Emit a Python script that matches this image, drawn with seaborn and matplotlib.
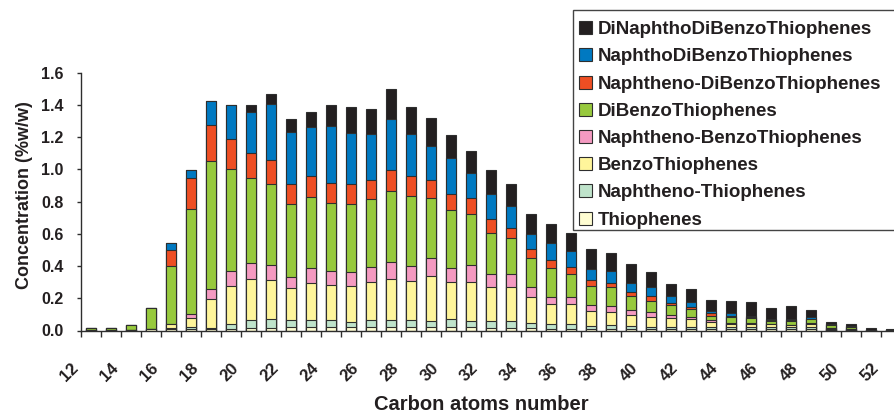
import numpy as np
import pandas as pd
import matplotlib
matplotlib.use("Agg")
import matplotlib.pyplot as plt
import matplotlib.transforms as mtransforms
from matplotlib.patches import Patch, Rectangle
import seaborn as sns

# ---------------------------------------------------------------
# DATA  (concentration %w/w per carbon atoms number, C12..C52)
# ---------------------------------------------------------------
CARBON = list(range(12, 53))

thiophenes = [0.004, 0.004, 0.005, 0.010, 0.008, 0.010, 0.010, 0.010, 0.015, 0.018,
              0.020, 0.020, 0.020, 0.020, 0.020, 0.020, 0.020, 0.020, 0.020, 0.020,
              0.017, 0.017, 0.015, 0.012, 0.012, 0.010, 0.010, 0.010, 0.008, 0.007,
              0.008, 0.007, 0.008, 0.007, 0.007, 0.008, 0.007, 0.004, 0.003, 0.002,
              0.002]
naphtheno_thiophenes = [0.0, 0.0, 0.0, 0.0, 0.005, 0.012, 0.005, 0.028, 0.050, 0.051,
                        0.045, 0.045, 0.045, 0.035, 0.045, 0.045, 0.045, 0.039, 0.049, 0.039,
                        0.044, 0.044, 0.033, 0.028, 0.028, 0.020, 0.026, 0.018, 0.016, 0.013,
                        0.016, 0.013, 0.016, 0.013, 0.013, 0.016, 0.013, 0.006, 0.004, 0.002,
                        0.001]
benzo_thiophenes = [0.0, 0.0, 0.0, 0.0, 0.025, 0.058, 0.180, 0.238, 0.252, 0.244,
                    0.196, 0.227, 0.217, 0.221, 0.234, 0.254, 0.242, 0.281, 0.230, 0.244,
                    0.207, 0.207, 0.161, 0.124, 0.122, 0.089, 0.077, 0.068, 0.058, 0.055,
                    0.046, 0.031, 0.016, 0.022, 0.018, 0.008, 0.020, 0.006, 0.004, 0.0,
                    0.0]
naphtheno_benzo = [0.0, 0.0, 0.0, 0.0, 0.005, 0.022, 0.062, 0.095, 0.099, 0.093,
                   0.072, 0.093, 0.089, 0.088, 0.093, 0.104, 0.094, 0.113, 0.086, 0.103,
                   0.080, 0.080, 0.059, 0.042, 0.044, 0.039, 0.039, 0.031, 0.031, 0.021,
                   0.012, 0.014, 0.008, 0.006, 0.004, 0.004, 0.005, 0.0, 0.0, 0.0,
                   0.0]
dibenzo_thiophenes = [0.011, 0.011, 0.032, 0.130, 0.357, 0.655, 0.793, 0.634, 0.533, 0.502,
                      0.451, 0.444, 0.421, 0.420, 0.423, 0.443, 0.434, 0.370, 0.362, 0.320,
                      0.258, 0.223, 0.185, 0.179, 0.142, 0.118, 0.116, 0.089, 0.072, 0.060,
                      0.049, 0.025, 0.034, 0.030, 0.020, 0.024, 0.025, 0.020, 0.012, 0.002,
                      0.001]
naphtheno_dibenzo = [0.0, 0.0, 0.0, 0.0, 0.100, 0.190, 0.228, 0.186, 0.155, 0.148,
                     0.124, 0.130, 0.126, 0.124, 0.117, 0.133, 0.124, 0.109, 0.103, 0.097,
                     0.083, 0.066, 0.052, 0.052, 0.047, 0.037, 0.028, 0.021, 0.031, 0.012,
                     0.017, 0.017, 0.010, 0.003, 0.004, 0.004, 0.003, 0.002, 0.004, 0.0,
                     0.0]
naphtho_dibenzo = [0.0, 0.0, 0.0, 0.0, 0.040, 0.047, 0.144, 0.210, 0.252, 0.352,
                   0.324, 0.304, 0.351, 0.320, 0.285, 0.311, 0.258, 0.211, 0.221, 0.157,
                   0.161, 0.136, 0.097, 0.107, 0.099, 0.070, 0.073, 0.055, 0.052, 0.046,
                   0.030, 0.016, 0.018, 0.010, 0.008, 0.010, 0.009, 0.002, 0.001, 0.0,
                   0.0]
dinaphtho_dibenzo = [0.0, 0.0, 0.0, 0.0, 0.0, 0.0, 0.0, 0.0, 0.045, 0.057,
                     0.078, 0.093, 0.132, 0.159, 0.160, 0.186, 0.170, 0.175, 0.145, 0.132,
                     0.144, 0.139, 0.118, 0.116, 0.114, 0.120, 0.115, 0.120, 0.096, 0.072,
                     0.077, 0.066, 0.073, 0.084, 0.063, 0.078, 0.045, 0.015, 0.010, 0.012,
                     0.008]

# stacking order, bottom -> top
SERIES = ["Thiophenes", "Naphtheno-Thiophenes", "BenzoThiophenes",
          "Naphtheno-BenzoThiophenes", "DiBenzoThiophenes",
          "Naphtheno-DiBenzoThiophenes", "NaphthoDiBenzoThiophenes",
          "DiNaphthoDiBenzoThiophenes"]
VALUES = [thiophenes, naphtheno_thiophenes, benzo_thiophenes, naphtheno_benzo,
          dibenzo_thiophenes, naphtheno_dibenzo, naphtho_dibenzo, dinaphtho_dibenzo]
COLORS = ["#FFFDD2", "#BFE3CB", "#FFF59B", "#F49AC1",
          "#97C93D", "#EE4E23", "#0079C1", "#231F20"]

TXT = "#231F20"
EDGE = "#2E2E2E"

# ---------------------------------------------------------------
# TABLE + cumulative sums for the stacked bars
# ---------------------------------------------------------------
df = pd.DataFrame(dict(zip(SERIES, VALUES)))
df["carbon"] = [str(c) for c in CARBON]
cum = df[SERIES].cumsum(axis=1)
cum["carbon"] = df["carbon"]

sns.set_style("ticks")
plt.rcParams["font.family"] = ["Liberation Sans", "DejaVu Sans"]
plt.rcParams["font.weight"] = "bold"
plt.rcParams["text.color"] = TXT

fig = plt.figure(figsize=(8.95, 4.13), dpi=100)
ax = fig.add_axes([81 / 895, 82.5 / 413, 840 / 895, 257.8 / 413])

# draw from the full stack down so each lower layer sits on top
for name, color in zip(SERIES[::-1], COLORS[::-1]):
    sns.barplot(data=cum, x="carbon", y=name, order=df["carbon"], color=color,
                saturation=1, width=0.47, errorbar=None, edgecolor=EDGE,
                linewidth=0.8, ax=ax)

ax.set_xlim(-0.5, 41.5)
ax.set_ylim(0, 1.6)
ax.set_yticks(np.arange(0, 1.61, 0.2))
ax.set_yticklabels([f"{v:.1f}" for v in np.arange(0, 1.61, 0.2)])

# category labels every 2nd carbon, tick marks between categories
ax.set_xticks(range(0, len(CARBON), 2))
ax.set_xticklabels(CARBON[::2], rotation=45, ha="right", va="center",
                   rotation_mode="anchor")
ax.set_xticks(np.arange(-0.5, len(CARBON) + 0.5, 1), minor=True)
ax.tick_params(axis="x", which="major", length=0, pad=0, labelsize=12,
               labelcolor=TXT)
ax.tick_params(axis="x", which="minor", length=4.5, width=1, color=EDGE,
               direction="out")
ax.tick_params(axis="y", which="major", length=3, width=1, color=EDGE,
               pad=9.5, labelsize=11.5, labelcolor=TXT)
shift = mtransforms.ScaledTranslation(-15 / 100, -35 / 100, fig.dpi_scale_trans)
for lab in ax.get_xticklabels():
    lab.set_transform(lab.get_transform() + shift)
    lab.set_fontweight("bold")
for lab in ax.get_yticklabels():
    lab.set_fontweight("bold")

for side in ["top", "right"]:
    ax.spines[side].set_visible(False)
for side in ["left", "bottom"]:
    ax.spines[side].set_color(EDGE)
    ax.spines[side].set_linewidth(1.0)

ax.set_xlabel("Carbon atoms number", fontsize=14.5, fontweight="bold", color=TXT)
ax.set_ylabel("Concentration (%w/w)", fontsize=13, fontweight="bold", color=TXT)
ax.xaxis.set_label_coords(0.477, -0.25)
ax.yaxis.set_label_coords(-0.057, 0.526)

# legend (top to bottom = reverse of stacking) inside a square frame
handles = [Patch(facecolor=c, edgecolor=EDGE, linewidth=0.8)
           for c in COLORS[::-1]]
fig.legend(handles, SERIES[::-1], loc="upper left",
           bbox_to_anchor=(573 / 895, 1 - 15 / 413), frameon=False,
           borderpad=0.33, labelspacing=0.54, handlelength=0.69,
           handleheight=0.69, handletextpad=0.29, borderaxespad=0,
           prop=dict(family="Liberation Sans", weight="bold", size=13.5))
fig.patches.append(Rectangle((573 / 895, 1 - 230 / 413), 330 / 895, 220 / 413,
                             transform=fig.transFigure, facecolor="white",
                             edgecolor="#444444", linewidth=1.0, zorder=0))

fig.savefig("out.png", dpi=100)
